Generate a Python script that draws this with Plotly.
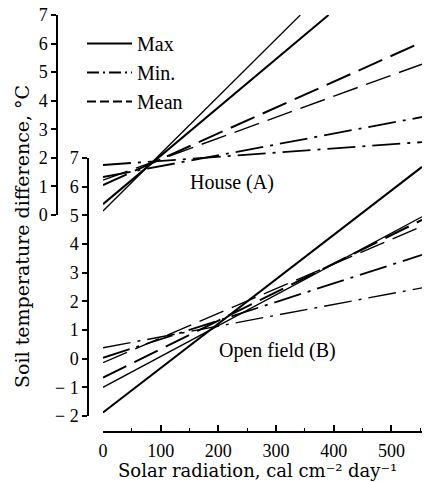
import plotly.graph_objects as go

# ---- data ----
x_end = [0, 553]

# House (A) regression lines: (x values, y values)
house_max_1_x, house_max_1_y = [0, 391], [0.38, 7.0]
house_max_2_x, house_max_2_y = [0, 342], [0.14, 7.0]
house_mean_1_x, house_mean_1_y = [0, 553], [1.05, 6.05]
house_mean_2_x, house_mean_2_y = [0, 553], [1.22, 5.28]
house_min_1_x, house_min_1_y = [0, 553], [1.33, 3.43]
house_min_2_x, house_min_2_y = [0, 553], [1.75, 2.55]

# Open field (B)
field_max_1_y = [-1.88, 6.69]
field_max_2_y = [-1.0, 4.95]
field_mean_1_y = [-0.66, 4.84]
field_mean_2_y = [-0.14, 4.62]
field_min_1_y = [0.03, 3.62]
field_min_2_y = [0.38, 2.47]

x_ticks = [0, 100, 200, 300, 400, 500]
house_ticks = [0, 1, 2, 3, 4, 5, 6, 7]
field_ticks = [-2, -1, 0, 1, 2, 3, 4, 5, 6, 7]
field_ticktext = ["\u2212 2", "\u2212 1", "0", "1", "2", "3", "4", "5", "6", "7"]

FONT = "Liberation Serif"
TITLE_FONT = "DejaVu Serif"
W, H = 427, 482

MEAN_DASH = "26px,9px"
MIN_DASH = "28px,7px,3px,7px"

fig = go.Figure()

def add(x, y, yaxis, dash, width):
    fig.add_trace(go.Scatter(x=x, y=y, mode="lines", yaxis=yaxis,
                             line=dict(color="black", width=width, dash=dash),
                             showlegend=False, hoverinfo="skip"))

# invisible carrier for the base subplot holding the x axis
fig.add_trace(go.Scatter(x=[None], y=[None], mode="lines", yaxis="y",
                         showlegend=False, hoverinfo="skip"))

add(house_max_1_x, house_max_1_y, "y2", "solid", 2.0)
add(house_max_2_x, house_max_2_y, "y2", "solid", 1.3)
add(house_mean_1_x, house_mean_1_y, "y2", MEAN_DASH, 2.0)
add(house_mean_2_x, house_mean_2_y, "y2", MEAN_DASH, 1.4)
add(house_min_1_x, house_min_1_y, "y2", MIN_DASH, 1.8)
add(house_min_2_x, house_min_2_y, "y2", MIN_DASH, 1.8)

add(x_end, field_max_1_y, "y3", "solid", 2.0)
add(x_end, field_max_2_y, "y3", "solid", 1.3)
add(x_end, field_mean_1_y, "y3", MEAN_DASH, 2.0)
add(x_end, field_mean_2_y, "y3", MEAN_DASH, 1.4)
add(x_end, field_min_1_y, "y3", MIN_DASH, 1.8)
add(x_end, field_min_2_y, "y3", MIN_DASH, 1.4)

# legend entries
for name, dash in [("Max", "solid"), ("Min.", "12px,4px,2px,4px"), ("Mean", "9px,4px")]:
    fig.add_trace(go.Scatter(x=[None], y=[None], mode="lines", name=name, yaxis="y2",
                             line=dict(color="black", width=1.8, dash=dash),
                             showlegend=True, legendgroup=name))

def px_x(p):
    return p / W

def px_y(p):
    return (H - p) / H

axis_common = dict(showline=True, linecolor="black", linewidth=1.5, showgrid=False,
                   zeroline=False, tickcolor="black", tickwidth=1.5, automargin=False,
                   tickfont=dict(family=FONT, size=18, color="black"))

bare = dict(showticklabels=False, showline=False, showgrid=False, zeroline=False,
            tickcolor="black", tickwidth=1.5, automargin=False)

fig.update_layout(
    template="none",
    width=W, height=H,
    margin=dict(l=0, r=0, t=0, b=0, pad=0, autoexpand=False),
    paper_bgcolor="white", plot_bgcolor="rgba(0,0,0,0)",
    font=dict(family=FONT, size=18, color="black"),
    xaxis=dict(domain=[px_x(103), px_x(422)], range=[0, 553], anchor="y",
               tickvals=x_ticks, ticks="inside", ticklen=6,
               minor=dict(dtick=50, tick0=0, ticks="inside", ticklen=3, tickcolor="black",
                          tickwidth=1.2),
               ticklabelstandoff=3, **axis_common),
    yaxis=dict(domain=[px_y(431), px_y(15)], range=[0, 1], anchor="x", visible=False,
               automargin=False),
    yaxis2=dict(domain=[px_y(215), px_y(15)], range=[0, 7], anchor="free",
                position=px_x(57), tickvals=house_ticks, ticks="outside", ticklen=5,
                **axis_common),
    yaxis3=dict(domain=[px_y(416), px_y(158)], range=[-2, 7], anchor="free",
                position=px_x(88), tickvals=field_ticks, ticktext=field_ticktext,
                ticks="outside", ticklen=5, **axis_common),
    yaxis4=dict(range=[0, 7], anchor="free", overlaying="y2", position=px_x(57),
                tickvals=[0, 7], ticks="inside", ticklen=6, **bare),
    yaxis5=dict(range=[-2, 7], anchor="free", overlaying="y3", position=px_x(88),
                tickvals=[-2, 7], ticks="inside", ticklen=6, **bare),
    showlegend=True,
    legend=dict(x=px_x(82), y=px_y(24), xanchor="left", yanchor="top",
                bgcolor="rgba(0,0,0,0)", font=dict(family=FONT, size=20),
                itemwidth=45, tracegroupgap=0),
    annotations=[
        dict(text="House (A)", x=px_x(232), y=px_y(182), xref="paper", yref="paper",
             xanchor="center", yanchor="middle", showarrow=False,
             font=dict(family=FONT, size=20)),
        dict(text="Open field (B)", x=px_x(277), y=px_y(350), xref="paper", yref="paper",
             xanchor="center", yanchor="middle", showarrow=False,
             font=dict(family=FONT, size=20)),
        dict(text="Solar radiation, cal cm\u207b\u00b2 day\u207b\u00b9",
             x=px_x(257), y=px_y(470), xref="paper", yref="paper",
             xanchor="center", yanchor="middle", showarrow=False,
             font=dict(family=TITLE_FONT, size=18)),
        dict(text="Soil temperature difference, \u00b0C", x=px_x(22), y=px_y(237),
             xref="paper", yref="paper", xanchor="center", yanchor="middle",
             showarrow=False, textangle=-90, font=dict(family=TITLE_FONT, size=19)),
    ],
)

fig.write_html("out.html")
